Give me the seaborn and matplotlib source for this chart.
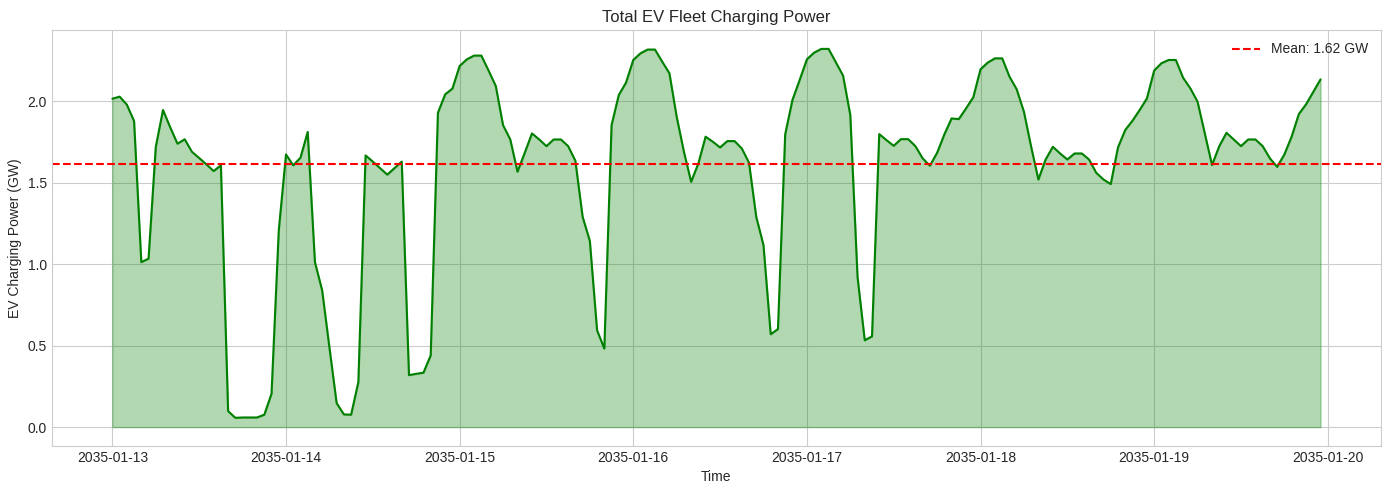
import numpy as np
import pandas as pd
import matplotlib
matplotlib.use("Agg")
import matplotlib.pyplot as plt
import seaborn as sns

# hourly fleet charging power (GW), one list per day
day_13 = [2.016, 2.029, 1.98, 1.879, 1.013, 1.034, 1.72, 1.947, 1.84, 1.74, 1.767, 1.69,
          1.652, 1.613, 1.572, 1.607, 0.098, 0.057, 0.059, 0.059, 0.059, 0.076, 0.205, 1.208]
day_14 = [1.674, 1.607, 1.654, 1.812, 1.013, 0.839, 0.49, 0.147, 0.078, 0.076, 0.276, 1.668,
          1.63, 1.59, 1.55, 1.59, 1.63, 0.319, 0.327, 0.334, 0.44, 1.93, 2.043, 2.078]
day_15 = [2.217, 2.258, 2.281, 2.281, 2.189, 2.094, 1.854, 1.766, 1.568, 1.684, 1.803, 1.766,
          1.725, 1.766, 1.766, 1.725, 1.635, 1.291, 1.143, 0.594, 0.482, 1.854, 2.039, 2.115]
day_16 = [2.254, 2.295, 2.318, 2.318, 2.244, 2.172, 1.906, 1.691, 1.506, 1.619, 1.783, 1.752,
          1.717, 1.756, 1.756, 1.711, 1.623, 1.291, 1.117, 0.570, 0.602, 1.797, 2.008, 2.131]
day_17 = [2.258, 2.299, 2.322, 2.322, 2.24, 2.158, 1.916, 0.922, 0.533, 0.557, 1.799, 1.762,
          1.727, 1.768, 1.768, 1.725, 1.65, 1.605, 1.684, 1.797, 1.895, 1.891, 1.957, 2.025]
day_18 = [2.197, 2.238, 2.264, 2.264, 2.152, 2.074, 1.936, 1.721, 1.52, 1.643, 1.721, 1.68,
          1.643, 1.68, 1.68, 1.643, 1.561, 1.52, 1.492, 1.717, 1.824, 1.881, 1.947, 2.018]
day_19 = [2.189, 2.234, 2.254, 2.254, 2.145, 2.08, 1.998, 1.803, 1.609, 1.725, 1.807, 1.766,
          1.725, 1.766, 1.766, 1.725, 1.65, 1.598, 1.674, 1.783, 1.922, 1.982, 2.059, 2.135]

power = day_13 + day_14 + day_15 + day_16 + day_17 + day_18 + day_19
times = pd.date_range("2035-01-13 00:00", periods=len(power), freq="h")
df = pd.DataFrame({"time": times, "power": power})
mean_power = df["power"].mean()

sns.set_style("whitegrid")
plt.rcParams["font.family"] = ["Liberation Sans", "DejaVu Sans"]
plt.rcParams["xtick.major.size"] = 0
plt.rcParams["ytick.major.size"] = 0

fig, ax = plt.subplots(figsize=(13.89, 4.9), dpi=100)
ax.fill_between(df["time"], df["power"], alpha=0.3, color="green")
sns.lineplot(data=df, x="time", y="power", color="green", linewidth=1.5, ax=ax)
ax.axhline(mean_power, color="red", linestyle="--", linewidth=1.5,
           label=f"Mean: {mean_power:.2f} GW")

ax.set_title("Total EV Fleet Charging Power")
ax.set_xlabel("Time")
ax.set_ylabel("EV Charging Power (GW)")
ax.legend(loc="upper right", frameon=False)
fig.subplots_adjust(left=0.0374, right=0.9942, top=0.9388, bottom=0.0898)
plt.savefig("out.png", dpi=100)
